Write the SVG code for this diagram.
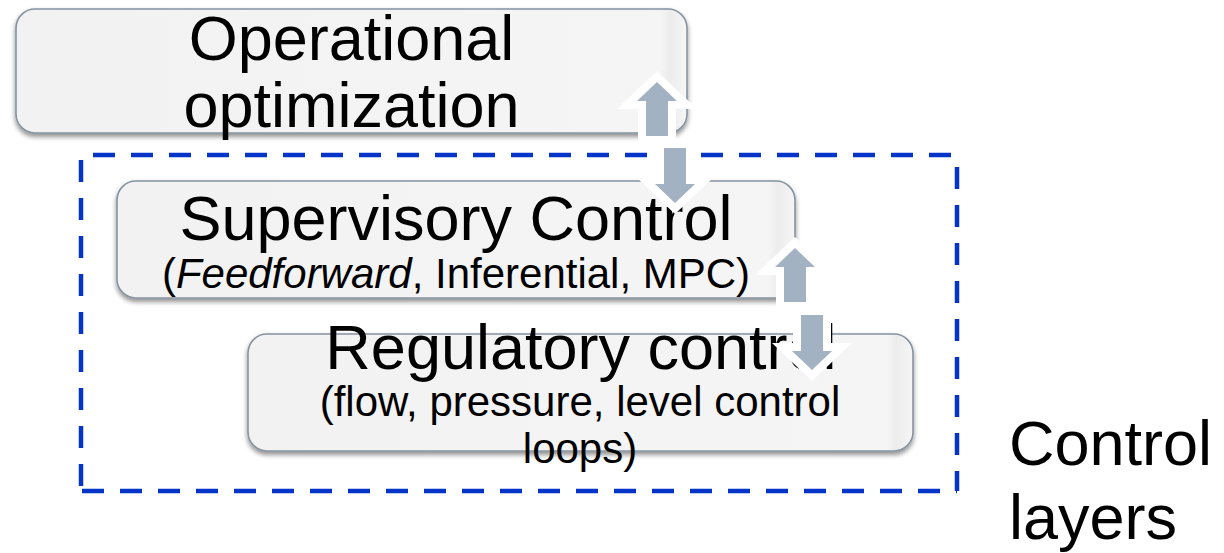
<svg xmlns="http://www.w3.org/2000/svg" width="1224" height="553" viewBox="0 0 1224 553">
  <defs>
    <filter id="shadow" x="-5%" y="-10%" width="110%" height="130%">
      <feGaussianBlur in="SourceAlpha" stdDeviation="2.5"/>
      <feOffset dx="0" dy="3" result="blur"/>
      <feComponentTransfer><feFuncA type="linear" slope="0.45"/></feComponentTransfer>
      <feMerge><feMergeNode/><feMergeNode in="SourceGraphic"/></feMerge>
    </filter>
    <linearGradient id="boxFill" x1="0" y1="0" x2="1" y2="0">
      <stop offset="0" stop-color="#f2f2f2"/>
      <stop offset="0.96" stop-color="#f5f5f5"/>
      <stop offset="0.975" stop-color="#ececec"/>
      <stop offset="1" stop-color="#f6f6f6"/>
    </linearGradient>
  </defs>
  <style>
    .box { fill: url(#boxFill); stroke: #8693a0; stroke-width: 1.6; filter: url(#shadow); }
    .t { font-family: "Liberation Sans", Arial, sans-serif; fill: #000; text-anchor: middle; }
    .left { text-anchor: start; }
    .big { font-size: 63px; }
    .sub { font-size: 42px; }
    .dash { stroke: #0535c8; stroke-width: 4.5; stroke-dasharray: 22 16; fill: none; }
    .arrow { fill: #a3b2c2; stroke: #ffffff; stroke-width: 16; stroke-linejoin: miter; stroke-miterlimit: 4; paint-order: stroke fill; }
  </style>

  <!-- dashed frame around the control layers -->
  <g id="control-layers-frame">
    <line class="dash" x1="93" y1="155" x2="957" y2="155"/>
    <line class="dash" x1="81" y1="160" x2="81" y2="491"/>
    <line class="dash" x1="957" y1="167" x2="957" y2="491"/>
    <line class="dash" x1="82" y1="491" x2="957" y2="491"/>
  </g>

  <g id="operational-optimization">
    <rect class="box" x="16" y="9" width="671" height="124" rx="19" ry="19"/>
    <text class="t big" x="351.5" y="60">Operational</text>
    <text class="t big" x="351.5" y="127">optimization</text>
  </g>

  <g id="supervisory-control">
    <rect class="box" x="117" y="181" width="678" height="117" rx="19" ry="19"/>
    <text class="t big" x="456" y="240">Supervisory Control</text>
    <text class="t sub" x="456" y="288">(<tspan font-style="italic">Feedforward</tspan>, Inferential, MPC)</text>
  </g>

  <g id="regulatory-control">
    <rect class="box" x="248" y="334" width="665" height="117" rx="19" ry="19"/>
    <text class="t big" x="581" y="369">Regulatory control</text>
    <text class="t sub" x="580" y="416">(flow, pressure, level control</text>
    <text class="t sub" x="580" y="463">loops)</text>
  </g>

  <g id="control-layers-label">
    <text class="t big left" x="1009" y="465">Control</text>
    <text class="t big left" x="1009" y="539">layers</text>
  </g>

  <!-- two-way block arrows between layers -->
  <g id="connectors">
    <path class="arrow" d="M657,82 L677,101 L668,101 L668,136 L646,136 L646,101 L637,101 Z"/>
    <path class="arrow" d="M664,148 L686,148 L686,184 L695,184 L675,203 L655,184 L664,184 Z"/>
    <path class="arrow" d="M795,248 L815,267 L806,267 L806,302 L784,302 L784,267 L775,267 Z"/>
    <path class="arrow" d="M801,315 L823,315 L823,351 L832,351 L812,370 L792,351 L801,351 Z"/>
  </g>
</svg>
